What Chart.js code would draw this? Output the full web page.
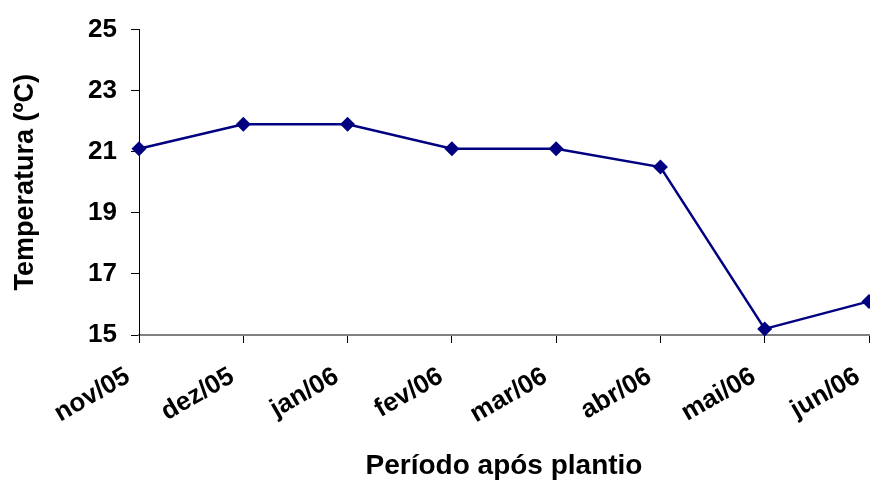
<!DOCTYPE html>
<html lang="pt-BR">
<head>
<meta charset="utf-8">
<title>Temperatura após plantio</title>
<script src="https://cdn.jsdelivr.net/npm/chart.js@4.4.1/dist/chart.umd.min.js"></script>
<style>
  html, body { margin: 0; padding: 0; background: #fff; overflow: hidden; }
  #graficoTemperatura { display: block; }
</style>
</head>
<body>
<canvas id="graficoTemperatura" width="870" height="483"></canvas>
<script>
// ---- dados do gráfico

// meses após o plantio (eixo x)
const meses = ['nov/05', 'dez/05', 'jan/06', 'fev/06', 'mar/06', 'abr/06', 'mai/06', 'jun/06'];

// temperatura média de cada mês em ºC (eixo y)
const temperaturas = [21.1, 21.9, 21.9, 21.1, 21.1, 20.5, 15.2, 16.1];

// valores marcados no eixo y
const marcasEixoY = [15, 17, 19, 21, 23, 25];

// ---- fontes

const familia = "'Liberation Sans', Arial, sans-serif";
const fonteEixo = { family: familia, size: 26, weight: 'bold' };
const fonteTituloX = { family: familia, size: 28, weight: 'bold' };
const fonteTituloY = { family: familia, size: 27, weight: 'bold' };

// ---- gráfico

const ctx = document.getElementById('graficoTemperatura').getContext('2d');

let graficoTemperatura = new Chart(ctx, {
    type: 'line',
    data: {
        labels: meses,
        datasets: [{
            label: 'Temperatura',
            data: temperaturas,
            borderColor: '#000080',
            backgroundColor: '#000080',
            borderWidth: 2.5,
            pointStyle: 'rectRot',
            pointRadius: 7.5,
            pointBorderWidth: 0,
            fill: false,
            tension: 0,
            clip: false
        }]
    },
    options: {
        responsive: false,
        animation: false,
        layout: {
            autoPadding: false, // o último ponto fica cortado na borda direita
            padding: { top: 28, right: 1, bottom: 0, left: 0 }
        },
        plugins: {
            legend: { display: false },
            tooltip: { enabled: false }
        },
        scales: {
            x: {
                offset: false,
                grid: {
                    drawOnChartArea: false,
                    tickLength: 8,
                    color: '#000'
                },
                border: { color: '#808080', width: 2 },
                ticks: {
                    autoSkip: false,
                    minRotation: 30,
                    maxRotation: 30,
                    color: '#000',
                    font: fonteEixo,
                    padding: 18,
                    labelOffset: -11
                },
                title: {
                    display: true,
                    text: 'Período após plantio',
                    color: '#000',
                    font: fonteTituloX,
                    padding: 0
                },
                // altura fixa do eixo x e sem sobra à direita
                afterFit: (escala) => {
                    escala.height = 148;
                    escala.paddingRight = 0;
                    escala.paddingLeft = 0;
                }
            },
            y: {
                min: 15,
                max: 25,
                afterBuildTicks: (escala) => {
                    escala.ticks = marcasEixoY.map(v => ({ value: v }));
                },
                grid: {
                    drawOnChartArea: false,
                    tickLength: 8,
                    color: '#000'
                },
                border: { color: '#000', width: 1 },
                ticks: {
                    color: '#000',
                    font: fonteEixo,
                    padding: 14
                },
                title: {
                    display: true,
                    text: 'Temperatura (ºC)',
                    color: '#000',
                    font: fonteTituloY,
                    padding: { top: 9, bottom: 0 }
                },
                // largura fixa do eixo y
                afterFit: (escala) => {
                    escala.width = 139;
                }
            }
        }
    }
});
</script>
</body>
</html>
